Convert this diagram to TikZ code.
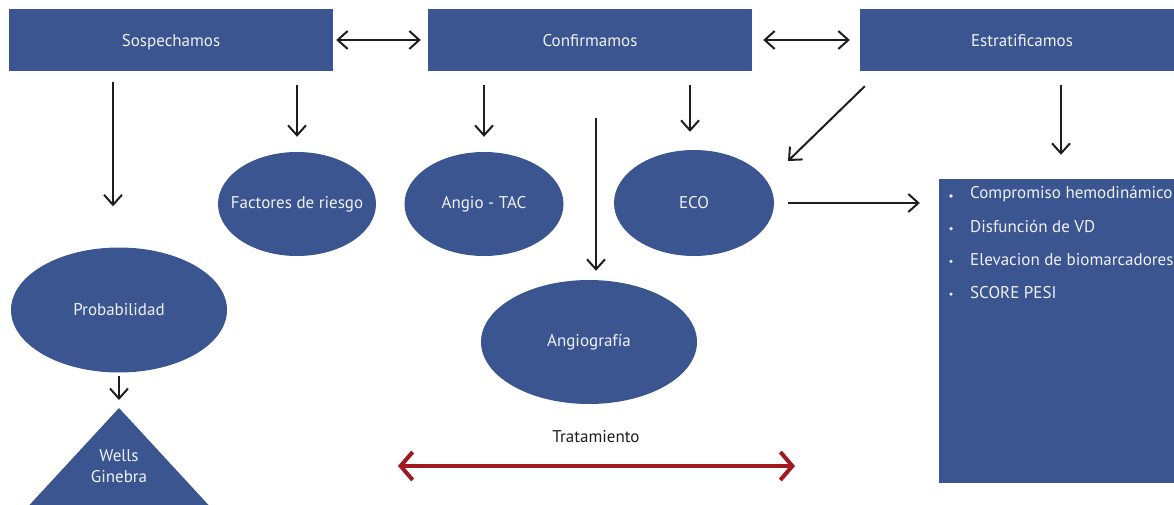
\documentclass[tikz,border=0pt]{standalone}
\usepackage{fontspec}
\setmainfont{PT Sans}
\usetikzlibrary{shapes.geometric,arrows.meta,calc}
\definecolor{boxblue}{HTML}{3B5590}
\definecolor{txtwhite}{HTML}{EEF1F7}
\definecolor{tred}{HTML}{A0191E}
\definecolor{tblack}{HTML}{1E1E1E}
\tikzset{
  bluebox/.style={fill=boxblue, draw=none, text=txtwhite, inner sep=0pt, font=\fontsize{17}{20}\selectfont},
  topbox/.style={bluebox, minimum height=62pt, text height=16pt, text depth=2pt},
  ell/.style={ellipse, fill=boxblue, draw=none, inner sep=0pt},
  elltxt/.style={text=txtwhite, inner sep=0pt, font=\fontsize{17}{20}\selectfont},
  arr/.style={draw=tblack, line width=2pt, -{Straight Barb[length=10pt,width=18pt,line width=2pt]}},
  darr/.style={draw=tblack, line width=2pt, {Straight Barb[length=10pt,width=18pt,line width=2pt]}-{Straight Barb[length=10pt,width=18pt,line width=2pt]}},
  redarr/.style={draw=tred, line width=4pt, {Straight Barb[length=12pt,width=28pt,line width=4pt]}-{Straight Barb[length=12pt,width=28pt,line width=4pt]}},
  listtxt/.style={anchor=west, text=txtwhite, inner sep=0pt, font=\fontsize{17}{20}\selectfont},
  bullet/.style={circle, fill=txtwhite, inner sep=0pt, minimum size=3.6pt},
  plain/.style={text=tblack, inner sep=0pt, font=\fontsize{17}{20}\selectfont}
}
\begin{document}
\begin{tikzpicture}[x=1pt,y=-1pt]
\useasboundingbox (0,0) rectangle (1174,505);
\clip (0,0) rectangle (1174,505);
% top boxes
\node[topbox, minimum width=324pt] (sos) at (171,40) {Sospechamos};
\node[topbox, minimum width=324pt] (conf) at (590,40) {Confirmamos};
\node[topbox, minimum width=316pt, text width=316pt, align=center] (est) at (1018,40) {\hspace*{8pt}Estratificamos};
% ellipses
\node[ell, minimum width=216pt, minimum height=125pt, label={[elltxt]center:Probabilidad}] (prob) at (119,310) {};
\node[ell, minimum width=158pt, minimum height=104pt, label={[elltxt]center:Factores de riesgo}] (fac) at (297,204) {};
\node[ell, minimum width=159pt, minimum height=104pt, label={[elltxt]center:Angio - TAC}] (tac) at (484,204) {};
\node[ell, minimum width=160pt, minimum height=106pt, label={[elltxt]center:ECO}] (eco) at (694,203) {};
\node[ell, minimum width=216pt, minimum height=124pt, label={[elltxt]center:Angiografía}] (angio) at (589,342) {};
% triangle
\coordinate (tri) at (119,408);
\fill[boxblue] (tri) -- (215,512) -- (23,512) -- cycle;
\node[plain, text=txtwhite, align=center, font=\fontsize{17}{21}\selectfont] (wells) at (119,466) {Wells\\Ginebra};
% right list box
\node[bluebox, minimum width=236pt, minimum height=304pt] (list) at (1057,331) {};
\foreach \i/\t in {0/Compromiso hemodinámico,1/Disfunción de VD,2/Elevacion de biomarcadores,3/SCORE PESI}{
  \node[bullet] (b\i) at (951,196+32.7*\i) {};
  \node[listtxt] (l\i) at (970,194+32.7*\i) {\t};
}
% connectors
\draw[darr, shorten <=3pt, shorten >=7pt] (sos.east) -- (conf.west);
\draw[darr, shorten <=11pt, shorten >=10pt] (conf.east) -- (est.west);
\draw[arr, shorten <=11pt, shorten >=41pt] ($(sos.south -| prob.north)+(-6,0)$) -- ($(prob.north)+(-6,0)$);
\draw[arr, shorten <=14pt, shorten >=15pt] (sos.south -| fac.north) -- (fac.north);
\draw[arr, shorten <=14pt, shorten >=15pt] (conf.south -| tac.north) -- (tac.north);
\draw[arr, shorten <=14pt, shorten >=18pt] ($(conf.south -| eco.north)+(-4,0)$) -- ($(eco.north)+(-4,0)$);
\draw[arr, shorten <=47pt, shorten >=9pt] ($(conf.south -| angio.north)+(7,0)$) -- ($(angio.north)+(7,0)$);
\draw[arr] ($(est.south west)+(5,15)$) -- ($(eco.center)+(94,-42)$);
\draw[arr, shorten <=14pt, shorten >=24pt] ($(est.south -| list.north)+(4,0)$) -- ($(list.north)+(4,0)$);
\draw[arr, shorten <=14pt, shorten >=19pt] (eco.east) -- (eco.east -| list.west);
\draw[arr, shorten <=3pt, shorten >=8pt] (prob.south) -- (tri);
% treatment
\node[plain] (trat) at (596,437) {Tratamiento};
\coordinate (tL) at (398,466);
\coordinate (tR) at (795,466);
\draw[redarr] (tL) -- (tR);
\end{tikzpicture}
\end{document}
